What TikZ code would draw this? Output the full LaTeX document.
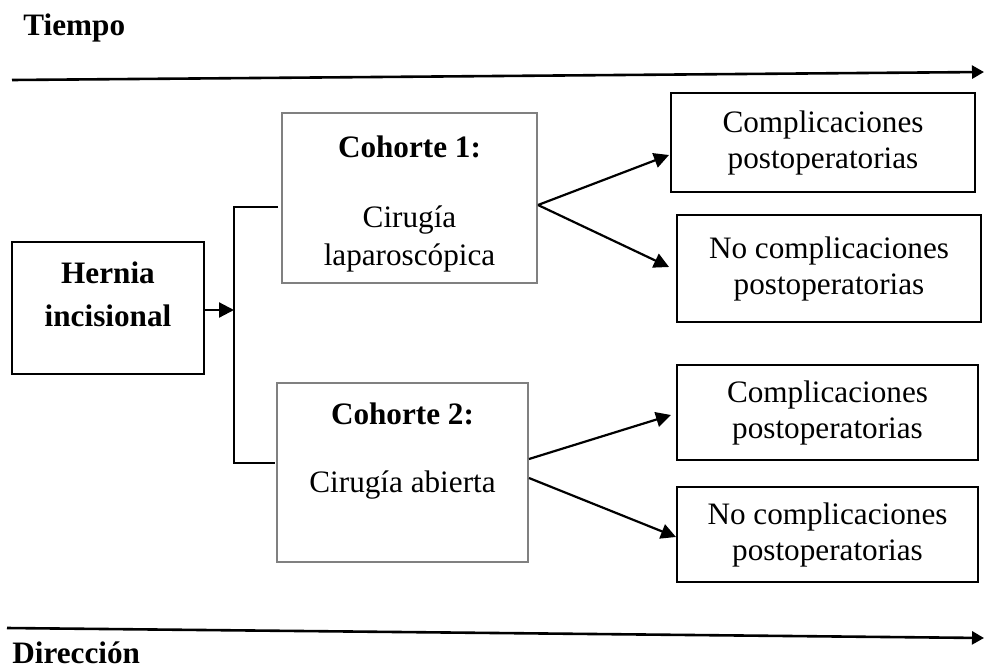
\documentclass[tikz,border=0pt]{standalone}
\usepackage{fontspec}
\setmainfont{Liberation Serif}
\usetikzlibrary{arrows.meta,calc}
\definecolor{boxgray}{HTML}{808080}
\begin{document}
\begin{tikzpicture}[x=0.5pt,y=-0.5pt,
  every node/.style={font=\fontsize{15.6}{18}\selectfont, inner sep=0pt},
  blkbox/.style={draw=black, line width=1pt, align=center},
  grybox/.style={draw=boxgray, line width=1pt},
  lbl/.style={anchor=base},
  arr/.style={draw=black, line width=1.1pt, -{Triangle[length=7.5pt,width=7.5pt]}},
  tline/.style={draw=black, line width=1.3pt, -{Triangle[length=6pt,width=6.5pt]}},
  plain/.style={draw=black, line width=0.8pt}]
\useasboundingbox (0,0) rectangle (984,669);

% labels
\node[lbl, anchor=base west, font=\fontsize{15.6}{18}\selectfont\bfseries] (tiempo) at (23,35) {Tiempo};
\node[lbl, anchor=base west, font=\fontsize{15.6}{18}\selectfont\bfseries] (direccion) at (12,663) {Dirección};

% timelines
\coordinate (ta) at (12,80);
\coordinate (tb) at (984,72);
\coordinate (da) at (7,628);
\coordinate (db) at (984,638);
\draw[tline] (ta) -- (tb);
\draw[tline] (da) -- (db);

% boxes
\node[blkbox, minimum width=96pt, minimum height=66pt] (hernia) at (108,308) {};
\node[lbl, font=\fontsize{15.6}{18}\selectfont\bfseries] (hl1) at (108,283) {Hernia};
\node[lbl, font=\fontsize{15.6}{18}\selectfont\bfseries] (hl2) at (108,326) {incisional};

\node[grybox, minimum width=127.5pt, minimum height=85pt] (c1) at (409.5,198) {};
\node[lbl, font=\fontsize{15.6}{18}\selectfont\bfseries] (c1a) at (409.5,157) {Cohorte 1:};
\node[lbl] (c1b) at (409.5,227) {Cirugía};
\node[lbl] (c1c) at (409.5,265) {laparoscópica};

\node[grybox, minimum width=125.5pt, minimum height=89.5pt] (c2) at (402.5,472.5) {};
\node[lbl, font=\fontsize{15.6}{18}\selectfont\bfseries] (c2a) at (402.5,424) {Cohorte 2:};
\node[lbl] (c2b) at (402.5,492) {Cirugía abierta};

\node[blkbox, minimum width=152pt, minimum height=49.5pt] (r1) at (823,142.5) {Complicaciones\\postoperatorias};
\node[blkbox, minimum width=152pt, minimum height=53.5pt] (r2) at (829,268.5) {No complicaciones\\postoperatorias};
\node[blkbox, minimum width=150.5pt, minimum height=47.5pt] (r3) at (827.5,412.5) {Complicaciones\\postoperatorias};
\node[blkbox, minimum width=150.5pt, minimum height=47.5pt] (r4) at (827.5,534.5) {No complicaciones\\postoperatorias};

% bracket
\coordinate (bt) at (278,207);
\coordinate (btc) at (234,207);
\coordinate (bbc) at (234,463);
\coordinate (bb) at (275,463);
\coordinate (bm) at (234,310);
\draw[plain] (bt) -- (btc) -- (bbc) -- (bb);
\draw[arr] ($(hernia.east)+(0,2)$) -- (bm);

% branch arrows
\draw[arr] ($(c1.east)+(0,7)$) -- ($(r1.west)+(-1,12.5)$);
\draw[arr] ($(c1.east)+(0,7)$) -- ($(r2.west)+(-7,-1.5)$);
\draw[arr] ($(c2.east)+(0,-13.5)$) -- ($(r3.west)+(-5,2.5)$);
\draw[arr] ($(c2.east)+(0,5.5)$) -- ($(r4.west)+(0,2.5)$);
\end{tikzpicture}
\end{document}
